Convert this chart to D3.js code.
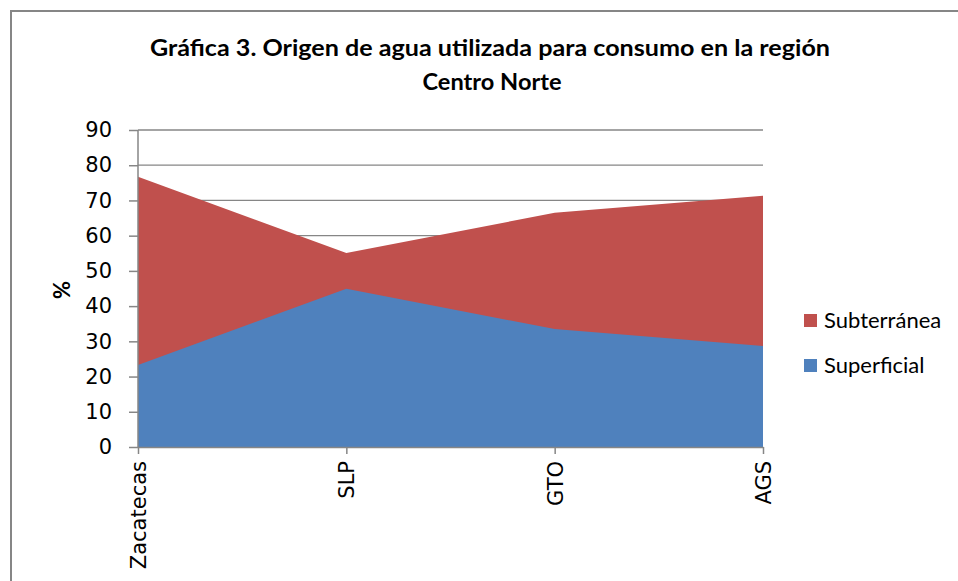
<!DOCTYPE html>
<meta charset="utf-8">
<title>Origen de agua - Centro Norte</title>
<style>
  body { margin: 0; background: #fff; }
  .tick text { font-family: "DejaVu Sans", sans-serif; font-size: 21px; fill: #000; }
  .title { font-family: Lato, "Open Sans", sans-serif; font-weight: bold; font-size: 22.5px; }
  .legend text { font-family: Lato, "Open Sans", sans-serif; font-size: 22px; }
</style>
<body>
<script src="https://cdn.jsdelivr.net/npm/d3@7"></script>
<script>
  // data
  var categories = ["Zacatecas", "SLP", "GTO", "AGS"];
  var superficial = [23.3, 44.9, 33.5, 28.7];
  var subterranea = [76.7, 55.1, 66.5, 71.3];
  var yTicks = [0, 10, 20, 30, 40, 50, 60, 70, 80, 90];

  var W = 958, H = 581;
  var margin = {top: 130, left: 138};
  var width = 763 - margin.left,
      height = 447 - margin.top;

  var svg = d3.select("body").append("svg")
      .attr("width", W)
      .attr("height", H);

  // outer frame
  svg.append("path")
      .attr("d", "M11,581 V11 H958")
      .attr("fill", "none")
      .attr("stroke", "#868686")
      .attr("stroke-width", 2);

  var title = svg.append("text")
      .attr("class", "title")
      .attr("text-anchor", "middle");
  title.append("tspan").attr("x", 490).attr("y", 56)
      .attr("textLength", 680).attr("lengthAdjust", "spacingAndGlyphs")
      .text("Gráfica 3. Origen de agua utilizada para consumo en la región");
  title.append("tspan").attr("x", 492).attr("y", 90)
      .attr("textLength", 139).attr("lengthAdjust", "spacingAndGlyphs")
      .text("Centro Norte");

  var g = svg.append("g")
      .attr("transform", "translate(" + margin.left + "," + margin.top + ")");

  var x = d3.scalePoint()
      .domain(categories)
      .range([0, width]);

  var y = d3.scaleLinear()
      .domain([0, 90])
      .range([height, 0]);

  // gridlines
  g.append("g").selectAll("line")
      .data(yTicks.slice(1))
      .enter().append("line")
      .attr("x1", 0).attr("x2", width)
      .attr("y1", function(d) { return y(d); })
      .attr("y2", function(d) { return y(d); })
      .attr("stroke", "#868686")
      .attr("stroke-width", 1.3);

  var area = function(vals) {
    return d3.area()
      .x(function(d, i) { return x(categories[i]); })
      .y0(y(0))
      .y1(function(d) { return y(d); })(vals);
  };

  // overlapping areas, red behind blue
  g.append("path").attr("d", area(subterranea)).attr("fill", "#C0504D");
  g.append("path").attr("d", area(superficial)).attr("fill", "#4F81BD");

  // y axis
  var yAxis = g.append("g")
      .call(d3.axisLeft(y).tickValues(yTicks).tickSize(9).tickPadding(17));
  yAxis.selectAll("line, path").attr("stroke", "#868686").attr("stroke-width", 1.5);
  yAxis.select(".domain").attr("d", "M0," + height + "V0");

  // x axis
  var xAxis = g.append("g")
      .attr("transform", "translate(0," + height + ")")
      .call(d3.axisBottom(x).tickSize(7).tickSizeOuter(0));
  xAxis.selectAll("line, path").attr("stroke", "#868686").attr("stroke-width", 1.5);
  xAxis.selectAll(".tick text")
      .attr("transform", "rotate(-90)")
      .attr("text-anchor", "end")
      .attr("x", -14)
      .attr("y", 0)
      .attr("dy", "0.35em");

  // y label
  svg.append("text")
      .attr("transform", "translate(70,290) rotate(-90)")
      .attr("text-anchor", "middle")
      .style("font-family", "Lato, sans-serif")
      .style("font-weight", "bold")
      .style("font-size", "22px")
      .text("%");

  // legend
  var legendData = [
    {name: "Subterránea", color: "#C0504D"},
    {name: "Superficial", color: "#4F81BD"}
  ];
  var legend = svg.append("g").attr("class", "legend")
      .selectAll("g")
      .data(legendData)
      .enter().append("g")
      .attr("transform", function(d, i) { return "translate(804," + (314 + i * 45) + ")"; });
  legend.append("rect")
      .attr("width", 13).attr("height", 13)
      .attr("fill", function(d) { return d.color; });
  legend.append("text")
      .attr("x", 20).attr("y", 14)
      .text(function(d) { return d.name; });
</script>
</body>
